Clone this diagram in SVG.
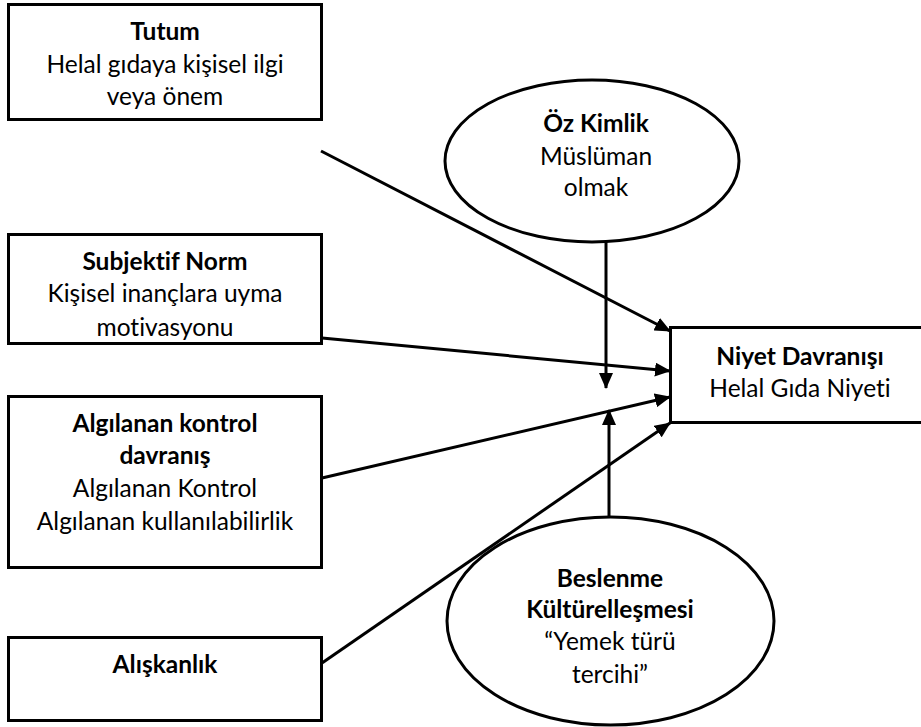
<svg xmlns="http://www.w3.org/2000/svg" width="921" height="727" viewBox="0 0 921 727">
<style>
.box{fill:#fff;stroke:#000;stroke-width:3}
.ell{fill:#fff;stroke:#000;stroke-width:3}
.t{font-family:Lato,"Open Sans","Liberation Sans",sans-serif;font-size:24.5px;fill:#000;text-anchor:middle;font-variant-ligatures:none}
.b{font-weight:bold}
.ln{stroke:#000;stroke-width:3;fill:none;marker-end:url(#ah)}
</style>
<defs>
<marker id="ah" markerUnits="userSpaceOnUse" markerWidth="16" markerHeight="14" refX="15" refY="7" orient="auto">
<path d="M0,0 L16,7 L0,14 z" fill="#000"/>
</marker>
<clipPath id="c2"><rect x="9" y="235" width="312" height="105"/></clipPath>
</defs>
<rect width="921" height="727" fill="#fff"/>
<g id="tutum">
<rect class="box" x="8.5" y="4.5" width="313" height="115"/>
<text class="t b" x="165" y="40">Tutum</text>
<text class="t" x="165" y="73">Helal gıdaya kişisel ilgi</text>
<text class="t" x="165" y="105">veya önem</text>
</g>
<g id="subjektif">
<rect class="box" x="8.5" y="234.5" width="313" height="109"/>
<g clip-path="url(#c2)">
<text class="t b" x="165" y="270">Subjektif Norm</text>
<text class="t" x="165" y="302">Kişisel inançlara uyma</text>
<text class="t" x="165" y="336">motivasyonu</text>
</g>
</g>
<g id="algilanan">
<rect class="box" x="8.5" y="396.5" width="313" height="171"/>
<text class="t b" x="165" y="432">Algılanan kontrol</text>
<text class="t b" x="165" y="464">davranış</text>
<text class="t" x="165" y="497">Algılanan Kontrol</text>
<text class="t" x="165" y="530">Algılanan kullanılabilirlik</text>
</g>
<g id="aliskanlik">
<rect class="box" x="8.5" y="637.5" width="313" height="83"/>
<text class="t b" x="165" y="673">Alışkanlık</text>
</g>
<g id="ozkimlik">
<ellipse class="ell" cx="592" cy="161" rx="147" ry="81"/>
<text class="t b" x="596" y="132">Öz Kimlik</text>
<text class="t" x="596" y="165">Müslüman</text>
<text class="t" x="596" y="196">olmak</text>
</g>
<g id="beslenme">
<ellipse class="ell" cx="610.5" cy="621" rx="163.5" ry="104"/>
<text class="t b" x="610" y="587">Beslenme</text>
<text class="t b" x="610" y="618">Kültürelleşmesi</text>
<text class="t" x="610" y="650">“Yemek türü</text>
<text class="t" x="610" y="683">tercihi”</text>
</g>
<g id="niyet">
<rect class="box" x="670.5" y="327.5" width="260" height="95"/>
<text class="t b" x="800" y="365">Niyet Davranışı</text>
<text class="t" x="800" y="397">Helal Gıda Niyeti</text>
</g>
<g id="connectors">
<line class="ln" x1="321" y1="151" x2="670" y2="331"/>
<line class="ln" x1="322" y1="338" x2="670" y2="371"/>
<line class="ln" x1="322" y1="478" x2="670" y2="397"/>
<line class="ln" x1="322" y1="663" x2="670" y2="423"/>
<line class="ln" x1="606" y1="242" x2="606" y2="388"/>
<line class="ln" x1="609" y1="518" x2="609" y2="410"/>
</g>
</svg>
